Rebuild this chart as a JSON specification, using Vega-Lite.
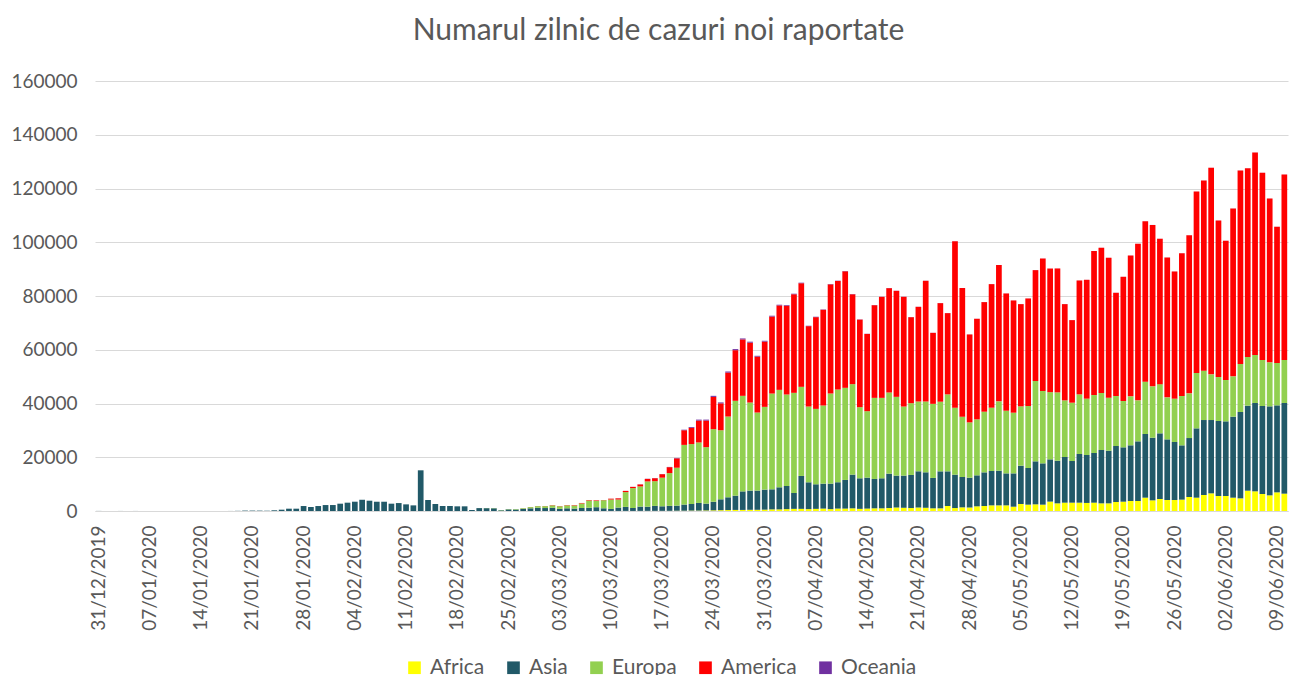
{
  "$schema": "https://vega.github.io/schema/vega-lite/v6.json",
  "width": 1193,
  "height": 430,
  "autosize": {"type": "none"},
  "padding": {"left": 95, "top": 81, "right": 1, "bottom": 164},
  "background": "white",
  "config": {"view": {"stroke": null}},
  "title": {"text": "Numarul zilnic de cazuri noi raportate", "font": "Lato", "fontSize": 30, "fontWeight": "normal", "color": "#595959", "anchor": "middle", "dx": -33, "offset": 26},
  "data": {"values": [
    {"d":"31/12/2019","Africa":0,"Asia":27,"Europa":0,"America":0,"Oceania":0},
    {"d":"01/01/2020","Africa":0,"Asia":0,"Europa":0,"America":0,"Oceania":0},
    {"d":"02/01/2020","Africa":0,"Asia":0,"Europa":0,"America":0,"Oceania":0},
    {"d":"03/01/2020","Africa":0,"Asia":17,"Europa":0,"America":0,"Oceania":0},
    {"d":"04/01/2020","Africa":0,"Asia":0,"Europa":0,"America":0,"Oceania":0},
    {"d":"05/01/2020","Africa":0,"Asia":15,"Europa":0,"America":0,"Oceania":0},
    {"d":"06/01/2020","Africa":0,"Asia":0,"Europa":0,"America":0,"Oceania":0},
    {"d":"07/01/2020","Africa":0,"Asia":0,"Europa":0,"America":0,"Oceania":0},
    {"d":"08/01/2020","Africa":0,"Asia":0,"Europa":0,"America":0,"Oceania":0},
    {"d":"09/01/2020","Africa":0,"Asia":0,"Europa":0,"America":0,"Oceania":0},
    {"d":"10/01/2020","Africa":0,"Asia":0,"Europa":0,"America":0,"Oceania":0},
    {"d":"11/01/2020","Africa":0,"Asia":0,"Europa":0,"America":0,"Oceania":0},
    {"d":"12/01/2020","Africa":0,"Asia":0,"Europa":0,"America":0,"Oceania":0},
    {"d":"13/01/2020","Africa":0,"Asia":1,"Europa":0,"America":0,"Oceania":0},
    {"d":"14/01/2020","Africa":0,"Asia":0,"Europa":0,"America":0,"Oceania":0},
    {"d":"15/01/2020","Africa":0,"Asia":1,"Europa":0,"America":0,"Oceania":0},
    {"d":"16/01/2020","Africa":0,"Asia":0,"Europa":0,"America":0,"Oceania":0},
    {"d":"17/01/2020","Africa":0,"Asia":4,"Europa":0,"America":0,"Oceania":0},
    {"d":"18/01/2020","Africa":0,"Asia":17,"Europa":0,"America":0,"Oceania":0},
    {"d":"19/01/2020","Africa":0,"Asia":60,"Europa":0,"America":0,"Oceania":0},
    {"d":"20/01/2020","Africa":0,"Asia":150,"Europa":0,"America":0,"Oceania":0},
    {"d":"21/01/2020","Africa":0,"Asia":150,"Europa":0,"America":1,"Oceania":0},
    {"d":"22/01/2020","Africa":0,"Asia":140,"Europa":0,"America":0,"Oceania":0},
    {"d":"23/01/2020","Africa":0,"Asia":100,"Europa":0,"America":0,"Oceania":0},
    {"d":"24/01/2020","Africa":0,"Asia":258,"Europa":2,"America":1,"Oceania":0},
    {"d":"25/01/2020","Africa":0,"Asia":490,"Europa":1,"America":1,"Oceania":4},
    {"d":"26/01/2020","Africa":0,"Asia":860,"Europa":0,"America":2,"Oceania":1},
    {"d":"27/01/2020","Africa":0,"Asia":860,"Europa":1,"America":1,"Oceania":1},
    {"d":"28/01/2020","Africa":0,"Asia":1850,"Europa":4,"America":0,"Oceania":0},
    {"d":"29/01/2020","Africa":0,"Asia":1490,"Europa":1,"America":0,"Oceania":2},
    {"d":"30/01/2020","Africa":0,"Asia":1850,"Europa":3,"America":0,"Oceania":0},
    {"d":"31/01/2020","Africa":0,"Asia":2215,"Europa":7,"America":3,"Oceania":0},
    {"d":"01/02/2020","Africa":0,"Asia":2220,"Europa":5,"America":1,"Oceania":0},
    {"d":"02/02/2020","Africa":0,"Asia":2720,"Europa":5,"America":3,"Oceania":0},
    {"d":"03/02/2020","Africa":0,"Asia":3095,"Europa":1,"America":1,"Oceania":0},
    {"d":"04/02/2020","Africa":0,"Asia":3460,"Europa":2,"America":0,"Oceania":0},
    {"d":"05/02/2020","Africa":0,"Asia":4180,"Europa":1,"America":0,"Oceania":1},
    {"d":"06/02/2020","Africa":0,"Asia":3830,"Europa":4,"America":2,"Oceania":0},
    {"d":"07/02/2020","Africa":0,"Asia":3450,"Europa":3,"America":0,"Oceania":0},
    {"d":"08/02/2020","Africa":0,"Asia":3450,"Europa":5,"America":0,"Oceania":0},
    {"d":"09/02/2020","Africa":0,"Asia":2725,"Europa":2,"America":0,"Oceania":0},
    {"d":"10/02/2020","Africa":0,"Asia":2960,"Europa":20,"America":0,"Oceania":0},
    {"d":"11/02/2020","Africa":0,"Asia":2470,"Europa":3,"America":0,"Oceania":0},
    {"d":"12/02/2020","Africa":0,"Asia":2095,"Europa":2,"America":0,"Oceania":0},
    {"d":"13/02/2020","Africa":0,"Asia":15140,"Europa":5,"America":1,"Oceania":0},
    {"d":"14/02/2020","Africa":1,"Asia":4090,"Europa":3,"America":0,"Oceania":0},
    {"d":"15/02/2020","Africa":0,"Asia":2595,"Europa":1,"America":0,"Oceania":0},
    {"d":"16/02/2020","Africa":0,"Asia":1855,"Europa":2,"America":0,"Oceania":0},
    {"d":"17/02/2020","Africa":0,"Asia":1860,"Europa":0,"America":0,"Oceania":0},
    {"d":"18/02/2020","Africa":0,"Asia":1735,"Europa":2,"America":0,"Oceania":0},
    {"d":"19/02/2020","Africa":0,"Asia":1738,"Europa":0,"America":1,"Oceania":0},
    {"d":"20/02/2020","Africa":0,"Asia":365,"Europa":3,"America":0,"Oceania":0},
    {"d":"21/02/2020","Africa":0,"Asia":1080,"Europa":15,"America":5,"Oceania":0},
    {"d":"22/02/2020","Africa":0,"Asia":1050,"Europa":50,"America":0,"Oceania":0},
    {"d":"23/02/2020","Africa":0,"Asia":1000,"Europa":90,"America":0,"Oceania":0},
    {"d":"24/02/2020","Africa":0,"Asia":260,"Europa":100,"America":5,"Oceania":0},
    {"d":"25/02/2020","Africa":0,"Asia":600,"Europa":120,"America":10,"Oceania":0},
    {"d":"26/02/2020","Africa":0,"Asia":550,"Europa":180,"America":10,"Oceania":0},
    {"d":"27/02/2020","Africa":1,"Asia":800,"Europa":250,"America":20,"Oceania":0},
    {"d":"28/02/2020","Africa":2,"Asia":1000,"Europa":450,"America":30,"Oceania":0},
    {"d":"29/02/2020","Africa":1,"Asia":1200,"Europa":600,"America":40,"Oceania":5},
    {"d":"01/03/2020","Africa":1,"Asia":1100,"Europa":700,"America":50,"Oceania":3},
    {"d":"02/03/2020","Africa":2,"Asia":1200,"Europa":900,"America":100,"Oceania":5},
    {"d":"03/03/2020","Africa":2,"Asia":800,"Europa":950,"America":90,"Oceania":5},
    {"d":"04/03/2020","Africa":3,"Asia":1000,"Europa":1100,"America":110,"Oceania":5},
    {"d":"05/03/2020","Africa":5,"Asia":900,"Europa":1150,"America":150,"Oceania":10},
    {"d":"06/03/2020","Africa":10,"Asia":1100,"Europa":1700,"America":180,"Oceania":10},
    {"d":"07/03/2020","Africa":10,"Asia":1200,"Europa":2700,"America":180,"Oceania":10},
    {"d":"08/03/2020","Africa":10,"Asia":1400,"Europa":2350,"America":200,"Oceania":20},
    {"d":"09/03/2020","Africa":10,"Asia":1000,"Europa":3000,"America":80,"Oceania":10},
    {"d":"10/03/2020","Africa":15,"Asia":750,"Europa":3500,"America":320,"Oceania":15},
    {"d":"11/03/2020","Africa":20,"Asia":1250,"Europa":3000,"America":450,"Oceania":30},
    {"d":"12/03/2020","Africa":30,"Asia":1500,"Europa":5500,"America":450,"Oceania":20},
    {"d":"13/03/2020","Africa":20,"Asia":1100,"Europa":7400,"America":450,"Oceania":30},
    {"d":"14/03/2020","Africa":40,"Asia":1600,"Europa":7500,"America":750,"Oceania":40},
    {"d":"15/03/2020","Africa":50,"Asia":1550,"Europa":9400,"America":950,"Oceania":50},
    {"d":"16/03/2020","Africa":50,"Asia":1850,"Europa":9200,"America":1100,"Oceania":50},
    {"d":"17/03/2020","Africa":50,"Asia":1700,"Europa":10650,"America":1300,"Oceania":50},
    {"d":"18/03/2020","Africa":60,"Asia":1850,"Europa":12200,"America":2200,"Oceania":90},
    {"d":"19/03/2020","Africa":100,"Asia":1900,"Europa":14100,"America":3500,"Oceania":150},
    {"d":"20/03/2020","Africa":100,"Asia":2300,"Europa":22200,"America":5450,"Oceania":200},
    {"d":"21/03/2020","Africa":150,"Asia":2450,"Europa":22300,"America":6050,"Oceania":300},
    {"d":"22/03/2020","Africa":150,"Asia":2850,"Europa":22500,"America":8150,"Oceania":350},
    {"d":"23/03/2020","Africa":200,"Asia":2550,"Europa":21000,"America":9900,"Oceania":350},
    {"d":"24/03/2020","Africa":250,"Asia":3200,"Europa":27000,"America":12000,"Oceania":400},
    {"d":"25/03/2020","Africa":300,"Asia":4050,"Europa":25700,"America":10000,"Oceania":350},
    {"d":"26/03/2020","Africa":350,"Asia":4750,"Europa":30050,"America":16350,"Oceania":400},
    {"d":"27/03/2020","Africa":400,"Asia":5300,"Europa":35300,"America":18840,"Oceania":400},
    {"d":"28/03/2020","Africa":400,"Asia":6900,"Europa":35550,"America":21000,"Oceania":350},
    {"d":"29/03/2020","Africa":450,"Asia":7150,"Europa":32760,"America":22280,"Oceania":360},
    {"d":"30/03/2020","Africa":450,"Asia":7150,"Europa":29040,"America":20810,"Oceania":300},
    {"d":"31/03/2020","Africa":500,"Asia":7450,"Europa":30800,"America":24290,"Oceania":300},
    {"d":"01/04/2020","Africa":600,"Asia":7470,"Europa":35630,"America":28660,"Oceania":300},
    {"d":"02/04/2020","Africa":600,"Asia":8220,"Europa":36260,"America":31420,"Oceania":250},
    {"d":"03/04/2020","Africa":700,"Asia":8600,"Europa":34050,"America":33030,"Oceania":250},
    {"d":"04/04/2020","Africa":800,"Asia":5900,"Europa":37270,"America":36680,"Oceania":200},
    {"d":"05/04/2020","Africa":800,"Asia":12240,"Europa":33160,"America":38550,"Oceania":200},
    {"d":"06/04/2020","Africa":700,"Asia":9980,"Europa":28190,"America":29910,"Oceania":150},
    {"d":"07/04/2020","Africa":800,"Asia":9140,"Europa":28060,"America":34130,"Oceania":150},
    {"d":"08/04/2020","Africa":900,"Asia":9280,"Europa":29070,"America":35630,"Oceania":120},
    {"d":"09/04/2020","Africa":700,"Asia":9480,"Europa":33540,"America":40620,"Oceania":120},
    {"d":"10/04/2020","Africa":900,"Asia":9800,"Europa":34500,"America":40400,"Oceania":100},
    {"d":"11/04/2020","Africa":900,"Asia":10650,"Europa":34280,"America":43370,"Oceania":100},
    {"d":"12/04/2020","Africa":1000,"Asia":12540,"Europa":33660,"America":33450,"Oceania":80},
    {"d":"13/04/2020","Africa":800,"Asia":11370,"Europa":26460,"America":32600,"Oceania":70},
    {"d":"14/04/2020","Africa":900,"Asia":11520,"Europa":24720,"America":28750,"Oceania":60},
    {"d":"15/04/2020","Africa":1000,"Asia":10920,"Europa":30180,"America":34480,"Oceania":50},
    {"d":"16/04/2020","Africa":1000,"Asia":11170,"Europa":29930,"America":37590,"Oceania":50},
    {"d":"17/04/2020","Africa":1100,"Asia":12800,"Europa":30190,"America":38830,"Oceania":50},
    {"d":"18/04/2020","Africa":1300,"Asia":11870,"Europa":29310,"America":39450,"Oceania":40},
    {"d":"19/04/2020","Africa":1200,"Asia":11970,"Europa":25700,"America":40830,"Oceania":40},
    {"d":"20/04/2020","Africa":1100,"Asia":12310,"Europa":26710,"America":32000,"Oceania":40},
    {"d":"21/04/2020","Africa":1300,"Asia":13480,"Europa":25960,"America":35230,"Oceania":40},
    {"d":"22/04/2020","Africa":1200,"Asia":13200,"Europa":26340,"America":44920,"Oceania":40},
    {"d":"23/04/2020","Africa":1000,"Asia":11300,"Europa":27570,"America":26420,"Oceania":30},
    {"d":"24/04/2020","Africa":1000,"Asia":13760,"Europa":25910,"America":36680,"Oceania":30},
    {"d":"25/04/2020","Africa":1860,"Asia":12900,"Europa":28640,"America":30230,"Oceania":30},
    {"d":"26/04/2020","Africa":1100,"Asia":12420,"Europa":24920,"America":61970,"Oceania":30},
    {"d":"27/04/2020","Africa":1360,"Asia":11290,"Europa":22440,"America":47850,"Oceania":20},
    {"d":"28/04/2020","Africa":1300,"Asia":11100,"Europa":20580,"America":32720,"Oceania":20},
    {"d":"29/04/2020","Africa":1740,"Asia":11530,"Europa":20830,"America":37430,"Oceania":20},
    {"d":"30/04/2020","Africa":1860,"Asia":12520,"Europa":22570,"America":40780,"Oceania":20},
    {"d":"01/05/2020","Africa":2100,"Asia":12780,"Europa":23560,"America":45980,"Oceania":20},
    {"d":"02/05/2020","Africa":2100,"Asia":12900,"Europa":25800,"America":50690,"Oceania":20},
    {"d":"03/05/2020","Africa":2100,"Asia":11900,"Europa":23320,"America":43630,"Oceania":20},
    {"d":"04/05/2020","Africa":1600,"Asia":12400,"Europa":22580,"America":41770,"Oceania":20},
    {"d":"05/05/2020","Africa":2600,"Asia":14260,"Europa":22080,"America":38040,"Oceania":20},
    {"d":"06/05/2020","Africa":2360,"Asia":13640,"Europa":23060,"America":40030,"Oceania":20},
    {"d":"07/05/2020","Africa":2480,"Asia":16000,"Europa":29880,"America":41270,"Oceania":20},
    {"d":"08/05/2020","Africa":2360,"Asia":15370,"Europa":26910,"America":49330,"Oceania":20},
    {"d":"09/05/2020","Africa":3500,"Asia":15720,"Europa":25000,"America":46000,"Oceania":20},
    {"d":"10/05/2020","Africa":2850,"Asia":15870,"Europa":25420,"America":46110,"Oceania":20},
    {"d":"11/05/2020","Africa":3100,"Asia":16990,"Europa":21080,"America":35810,"Oceania":20},
    {"d":"12/05/2020","Africa":3100,"Asia":15500,"Europa":21700,"America":30730,"Oceania":20},
    {"d":"13/05/2020","Africa":3100,"Asia":18100,"Europa":22200,"America":42380,"Oceania":20},
    {"d":"14/05/2020","Africa":3000,"Asia":17840,"Europa":20960,"America":44230,"Oceania":20},
    {"d":"15/05/2020","Africa":3100,"Asia":18480,"Europa":21570,"America":53550,"Oceania":20},
    {"d":"16/05/2020","Africa":2850,"Asia":19850,"Europa":21200,"America":54040,"Oceania":20},
    {"d":"17/05/2020","Africa":2850,"Asia":19600,"Europa":19710,"America":52060,"Oceania":20},
    {"d":"18/05/2020","Africa":3350,"Asia":20840,"Europa":18590,"America":38420,"Oceania":20},
    {"d":"19/05/2020","Africa":3470,"Asia":20220,"Europa":17230,"America":46230,"Oceania":20},
    {"d":"20/05/2020","Africa":3720,"Asia":20720,"Europa":18220,"America":52420,"Oceania":20},
    {"d":"21/05/2020","Africa":3720,"Asia":22200,"Europa":15250,"America":58250,"Oceania":20},
    {"d":"22/05/2020","Africa":4960,"Asia":23690,"Europa":19460,"America":59740,"Oceania":20},
    {"d":"23/05/2020","Africa":3970,"Asia":23310,"Europa":19100,"America":60080,"Oceania":20},
    {"d":"24/05/2020","Africa":4460,"Asia":24440,"Europa":18300,"America":54080,"Oceania":20},
    {"d":"25/05/2020","Africa":4090,"Asia":22570,"Europa":15620,"America":52060,"Oceania":20},
    {"d":"26/05/2020","Africa":4090,"Asia":21580,"Europa":16120,"America":47340,"Oceania":20},
    {"d":"27/05/2020","Africa":4220,"Asia":20210,"Europa":18350,"America":53170,"Oceania":20},
    {"d":"28/05/2020","Africa":5210,"Asia":21940,"Europa":16620,"America":58880,"Oceania":20},
    {"d":"29/05/2020","Africa":4960,"Asia":25790,"Europa":20590,"America":67560,"Oceania":20},
    {"d":"30/05/2020","Africa":5950,"Asia":27900,"Europa":18360,"America":70780,"Oceania":20},
    {"d":"31/05/2020","Africa":6570,"Asia":27280,"Europa":16990,"America":76860,"Oceania":20},
    {"d":"01/06/2020","Africa":5580,"Asia":27900,"Europa":16370,"America":58260,"Oceania":20},
    {"d":"02/06/2020","Africa":5580,"Asia":27780,"Europa":15370,"America":51810,"Oceania":20},
    {"d":"03/06/2020","Africa":4960,"Asia":30140,"Europa":15000,"America":62470,"Oceania":20},
    {"d":"04/06/2020","Africa":4710,"Asia":32120,"Europa":17870,"America":71990,"Oceania":30},
    {"d":"05/06/2020","Africa":7560,"Asia":31630,"Europa":18120,"America":70270,"Oceania":20},
    {"d":"06/06/2020","Africa":7320,"Asia":32860,"Europa":17870,"America":75350,"Oceania":20},
    {"d":"07/06/2020","Africa":6320,"Asia":32740,"Europa":17130,"America":69650,"Oceania":20},
    {"d":"08/06/2020","Africa":5830,"Asia":33110,"Europa":16380,"America":60970,"Oceania":20},
    {"d":"09/06/2020","Africa":6940,"Asia":32370,"Europa":15760,"America":50680,"Oceania":20},
    {"d":"10/06/2020","Africa":6450,"Asia":33730,"Europa":16010,"America":69030,"Oceania":20}
  ]},
  "transform": [
    {"fold": ["Africa", "Asia", "Europa", "America", "Oceania"], "as": ["c", "v"]},
    {"calculate": "indexof(['Africa','Asia','Europa','America','Oceania'], datum.c)", "as": "o"}
  ],
  "mark": {"type": "bar"},
  "encoding": {
    "x": {"field": "d", "type": "ordinal", "sort": null,
      "scale": {"paddingInner": 0.22, "paddingOuter": 0.11},
      "axis": {"title": null, "values": ["31/12/2019","07/01/2020","14/01/2020","21/01/2020","28/01/2020","04/02/2020","11/02/2020","18/02/2020","25/02/2020","03/03/2020","10/03/2020","17/03/2020","24/03/2020","31/03/2020","07/04/2020","14/04/2020","21/04/2020","28/04/2020","05/05/2020","12/05/2020","19/05/2020","26/05/2020","02/06/2020","09/06/2020"],
        "labelAngle": -90, "labelFont": "Lato", "labelFontSize": 19, "labelColor": "#595959", "labelPadding": 14, "ticks": false, "domainColor": "#d9d9d9", "grid": false}},
    "y": {"field": "v", "type": "quantitative", "stack": "zero",
      "scale": {"domain": [0, 160000], "nice": false},
      "axis": {"title": null, "values": [0,20000,40000,60000,80000,100000,120000,140000,160000], "format": "d", "labelFont": "Lato", "labelFontSize": 19, "labelColor": "#595959", "labelPadding": 18, "domain": false, "ticks": false, "gridColor": "#d9d9d9"}},
    "order": {"field": "o", "type": "quantitative", "sort": "ascending"},
    "color": {"field": "c", "type": "nominal",
      "scale": {"domain": ["Africa", "Asia", "Europa", "America", "Oceania"], "range": ["#FFFF00", "#215968", "#92D050", "#FF0000", "#7030A0"]},
      "legend": {"title": null, "orient": "none", "legendX": 309, "legendY": 576, "direction": "horizontal", "symbolType": "square", "symbolSize": 160, "symbolStrokeWidth": 0, "labelFont": "Lato", "labelFontSize": 21, "labelColor": "#595959", "columnPadding": 18, "labelOffset": 5, "padding": 0}}
  }
}
